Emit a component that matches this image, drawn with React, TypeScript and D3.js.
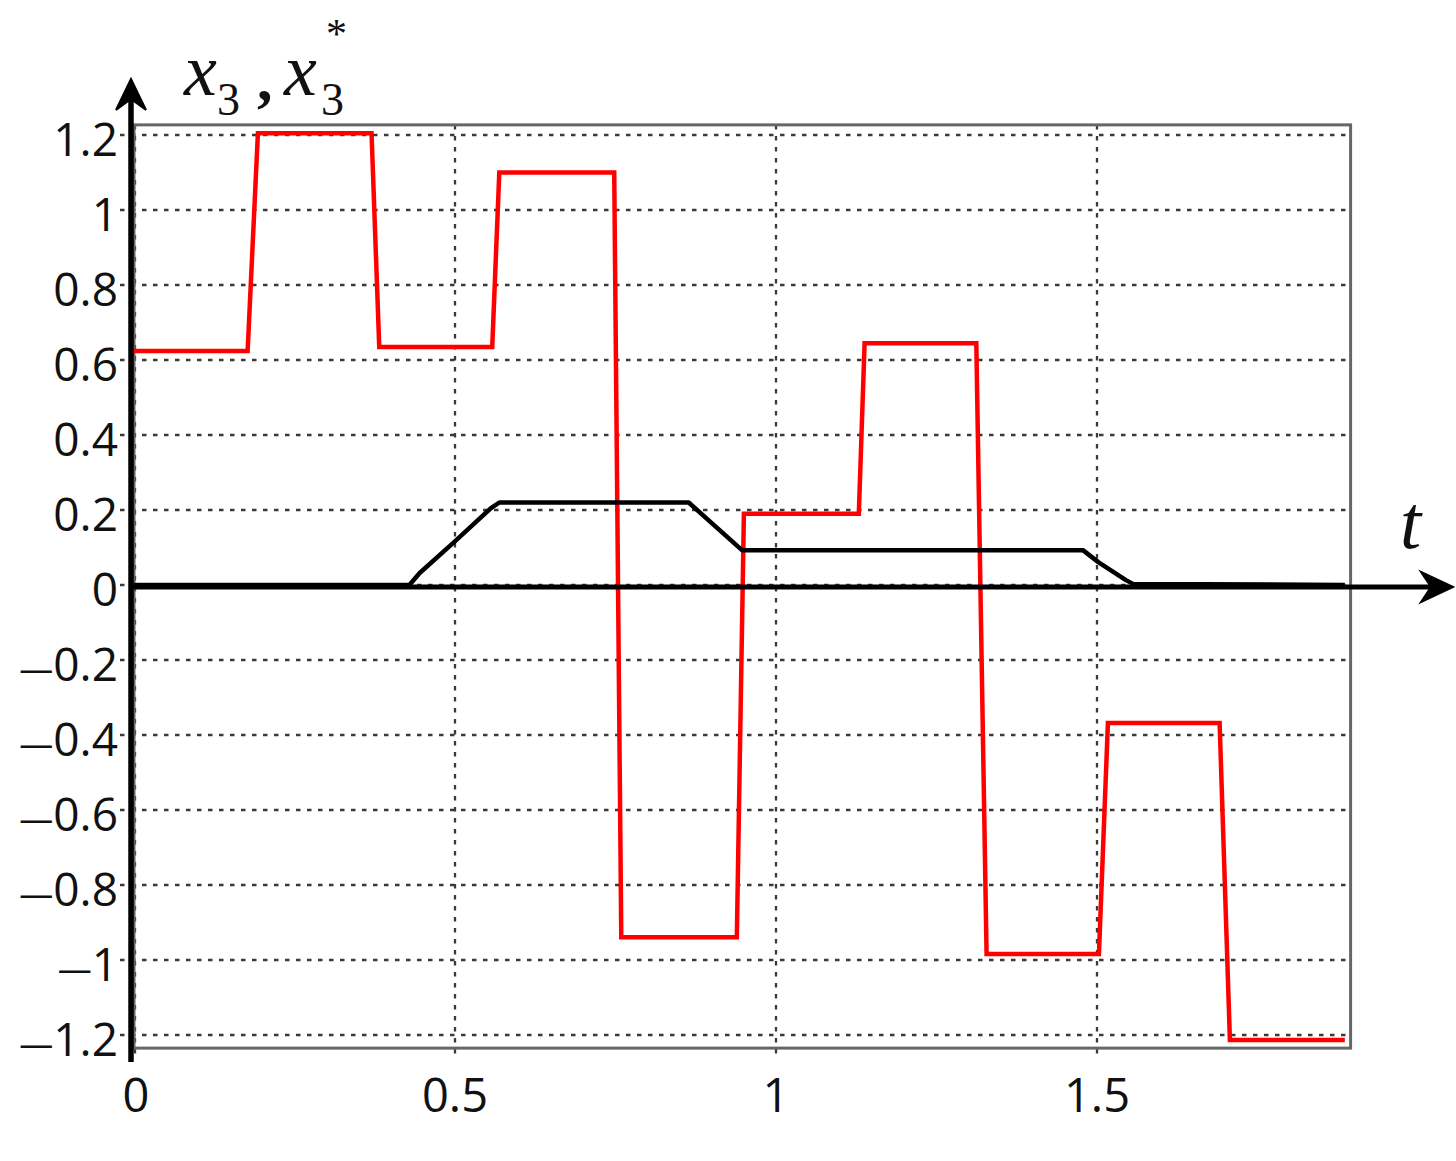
import React from "react";
import * as d3 from "d3";

const xTicks = [0, 0.5, 1, 1.5];
const xTickLabels = ["0", "0.5", "1", "1.5"];
const yTicks = [1.2, 1, 0.8, 0.6, 0.4, 0.2, 0, -0.2, -0.4, -0.6, -0.8, -1, -1.2];
const yTickLabels = ["1.2", "1", "0.8", "0.6", "0.4", "0.2", "0", "0.2", "0.4", "0.6", "0.8", "1", "1.2"];

// red reference signal x3* (vertices of the stepped curve)
const redT = [0, 0.177, 0.193, 0.37, 0.382, 0.558, 0.569, 0.748, 0.759, 0.939, 0.95, 1.129, 1.138, 1.312, 1.328, 1.503, 1.517, 1.691, 1.707, 1.886];
const redV = [0.624, 0.624, 1.205, 1.205, 0.635, 0.635, 1.1, 1.1, -0.939, -0.939, 0.19, 0.19, 0.645, 0.645, -0.984, -0.984, -0.368, -0.368, -1.213, -1.213];

// black signal x3
const blackT = [0, 0.429, 0.445, 0.499, 0.556, 0.569, 0.864, 0.947, 1.478, 1.502, 1.545, 1.556, 1.886];
const blackV = [0, 0, 0.032, 0.115, 0.205, 0.22, 0.22, 0.093, 0.093, 0.061, 0.013, 0.003, 0];

const T_MAX = 1.895;
const Y_TOP = 1.227;
const Y_BOT = -1.235;

export default function App() {
  const x = d3.scaleLinear().domain([0, 1.5]).range([134, 1097]);
  const y = d3.scaleLinear().domain([-1.2, 1.2]).range([1035, 135]);

  const line = d3
    .line<[number, number]>()
    .x((d) => x(d[0]))
    .y((d) => y(d[1]));

  const redPts: [number, number][] = redT.map((t, i) => [t, redV[i]]);
  const blackPts: [number, number][] = blackT.map((t, i) => [t, blackV[i]]);

  const left = x(0);
  const right = x(T_MAX);
  const top = y(Y_TOP);
  const bottom = y(Y_BOT);
  const axisX = left - 3;
  const axisY = y(0) + 2;

  const tickFont = "'Open Sans', 'Noto Sans', sans-serif";
  const mathFont = "'Liberation Serif', 'DejaVu Serif', serif";

  return (
    <svg
      width={1456}
      height={1161}
      style={{ position: "absolute", left: 0, top: 0, background: "#fff" }}
    >
      <rect x={0} y={0} width={1456} height={1161} fill="#fff" />
      {/* grid */}
      {yTicks.map((v) => (
        <line
          key={"gy" + v}
          x1={left - 14}
          x2={right}
          y1={y(v)}
          y2={y(v)}
          stroke="#3a3a3a"
          strokeWidth={2.3}
          strokeDasharray="4.5,6.5"
        />
      ))}
      {xTicks.map((v) => (
        <line
          key={"gx" + v}
          x1={x(v) + (v === 0 ? 1 : 0)}
          x2={x(v) + (v === 0 ? 1 : 0)}
          y1={top}
          y2={bottom + 8}
          stroke="#3a3a3a"
          strokeWidth={2.3}
          strokeDasharray="4.5,6.5"
        />
      ))}
      {/* frame */}
      <rect
        x={left}
        y={top}
        width={right - left}
        height={bottom - top}
        fill="none"
        stroke="#666"
        strokeWidth={3}
      />
      {/* series */}
      <path d={line(redPts) ?? ""} fill="none" stroke="#ff0000" strokeWidth={4.5} strokeLinejoin="miter" />
      <path d={line(blackPts) ?? ""} fill="none" stroke="#000" strokeWidth={4.5} strokeLinejoin="round" />

      {/* axes */}
      <line x1={axisX} x2={1440} y1={axisY} y2={axisY} stroke="#000" strokeWidth={5} />
      <path
        d={`M1453,${axisY} L1421,${axisY - 15} L1431,${axisY} L1421,${axisY + 15} Z`}
        fill="#000"
        stroke="#000"
        strokeWidth={2}
        strokeLinejoin="miter"
      />
      <line x1={axisX} x2={axisX} y1={90} y2={1062} stroke="#000" strokeWidth={5.5} />
      <path
        d={`M${axisX},79 L${axisX - 15},110 L${axisX},99 L${axisX + 15},110 Z`}
        fill="#000"
        stroke="#000"
        strokeWidth={2}
      />

      {/* y tick labels */}
      {yTicks.map((v, i) => (
        <text
          key={"ty" + v}
          x={118}
          y={y(v) + 21}
          textAnchor="end"
          fontFamily={tickFont}
          fontSize={46}
          fill="#111"
        >
          {v < 0 ? <tspan fontSize={34}>{"\u2014"}</tspan> : null}
          <tspan>{yTickLabels[i]}</tspan>
        </text>
      ))}
      {/* x tick labels */}
      {xTicks.map((v, i) => (
        <text
          key={"tx" + v}
          x={x(v) + (v === 0 ? 2 : 0)}
          y={1112}
          textAnchor="middle"
          fontFamily={tickFont}
          fontSize={47}
          fill="#111"
        >
          {xTickLabels[i]}
        </text>
      ))}

      {/* axis titles */}
      <g fontFamily={mathFont} fill="#111">
        <text x={184} y={95} fontSize={74} fontStyle="italic">x</text>
        <text x={217} y={115} fontSize={46}>3</text>
        <text x={257} y={100} fontSize={62} fontWeight="bold">,</text>
        <text x={284} y={95} fontSize={74} fontStyle="italic">x</text>
        <text x={321} y={115} fontSize={46}>3</text>
        <text x={326} y={48} fontSize={42}>*</text>
        <text x={1400} y={548} fontSize={76} fontStyle="italic">t</text>
      </g>
    </svg>
  );
}
